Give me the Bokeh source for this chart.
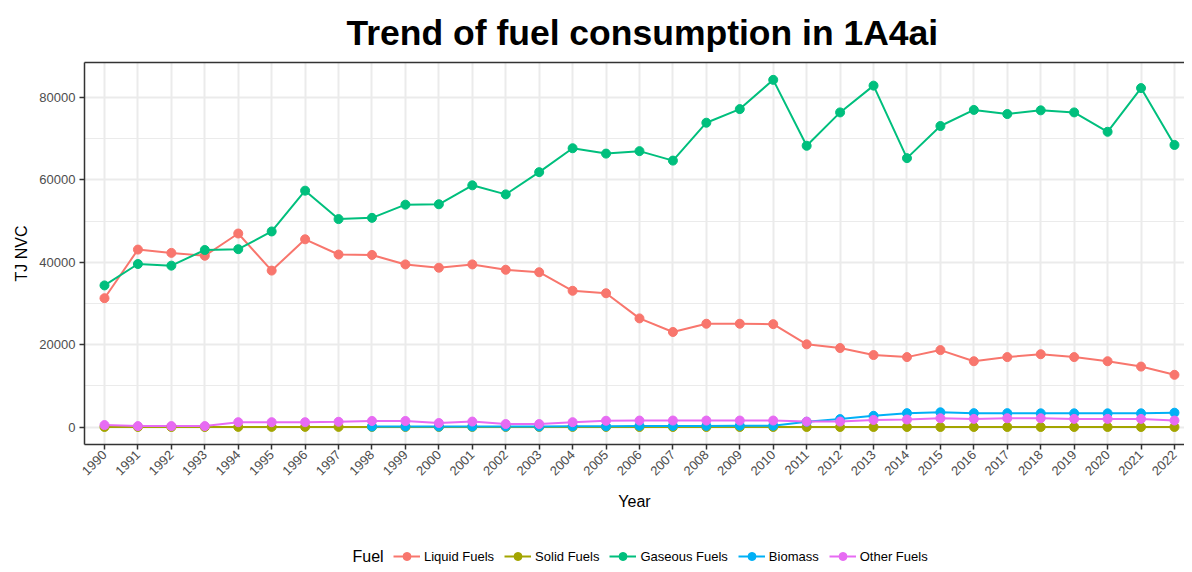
import math
from bokeh.plotting import figure
from bokeh.layouts import column
from bokeh.models import (ColumnDataSource, FixedTicker, Range1d, Legend,
                          LegendItem, Label, LinearAxis)
from bokeh.embed import file_html
from bokeh.resources import INLINE

years = list(range(1990, 2023))
fuels = ["Liquid Fuels", "Solid Fuels", "Gaseous Fuels", "Biomass", "Other Fuels"]
colors = ["#F8766D", "#A3A500", "#00BF7D", "#00B0F6", "#E76BF3"]
legend_title = "Fuel"

liquid = [31300, 43100, 42300, 41600, 47000, 38000, 45600, 41900, 41800, 39500,
          38700, 39500, 38200, 37600, 33100, 32500, 26400, 23100, 25100, 25100,
          25000, 20100, 19200, 17500, 17000, 18700, 16000, 17000, 17700, 17000,
          16000, 14700, 12700]
solid = [40, 40, 40, 40, 60, 60, 60, 60, 50, 50,
         50, 50, 50, 50, 50, 50, 40, 40, 40, 40,
         40, 40, 40, 40, 40, 40, 40, 40, 40, 40,
         40, 40, 40]
gaseous = [34400, 39600, 39200, 43000, 43200, 47500, 57400, 50500, 50800, 54000,
           54100, 58700, 56500, 61900, 67700, 66400, 67000, 64700, 73900, 77200,
           84300, 68300, 76400, 82900, 65300, 73100, 77000, 76000, 76900, 76400,
           71700, 82300, 68500]
biomass = [None, None, None, None, None, None, None, None, 150, 150,
           150, 150, 150, 150, 200, 200, 300, 300, 300, 350,
           350, 1300, 1950, 2750, 3400, 3600, 3400, 3400, 3350, 3350,
           3350, 3350, 3500]
other = [500, 250, 250, 250, 1200, 1200, 1200, 1300, 1500, 1500,
         1000, 1350, 750, 750, 1200, 1550, 1600, 1600, 1600, 1600,
         1600, 1350, 1350, 1750, 1850, 2150, 2000, 2150, 2150, 2000,
         2000, 2000, 1600]

y_ticks = [0, 20000, 40000, 60000, 80000]
y_minor = [10000, 30000, 50000, 70000]

series = [liquid, solid, gaseous, biomass, other]

FONT = "Liberation Sans"
BORDER = "#333333"

p = figure(width=1184, height=514, output_backend="svg", toolbar_location=None,
           x_range=Range1d(1989.402, 2022.30), y_range=Range1d(-4215, 88515),
           min_border_left=84, min_border_right=0, min_border_top=62,
           min_border_bottom=70)

p.title.text = "Trend of fuel consumption in 1A4ai"
p.title.text_font = FONT
p.title.text_font_size = "35.5px"
p.title.text_font_style = "bold"
p.title.text_color = "#000000"
p.title.align = "left"
p.title.offset = 262
p.title.standoff = 20

p.background_fill_color = "white"
p.border_fill_color = "white"
p.outline_line_color = None

bottom = p.below[0]
left = p.left[0]

bottom.ticker = FixedTicker(ticks=years)
bottom.major_label_orientation = math.pi / 4
left.ticker = FixedTicker(ticks=y_ticks, minor_ticks=y_minor)

# panel border on three sides (the right side runs past the picture's edge)
top_axis = LinearAxis(ticker=FixedTicker(ticks=[]), axis_line_color=BORDER,
                      axis_line_width=1.5, major_tick_out=0, major_tick_in=0,
                      minor_tick_out=0, minor_tick_in=0,
                      major_tick_line_color=None, minor_tick_line_color=None,
                      major_label_text_font_size="0px")
p.add_layout(top_axis, "above")

p.xgrid.ticker = bottom.ticker
p.ygrid.ticker = left.ticker
p.grid.grid_line_color = "#EBEBEB"
p.grid.grid_line_width = 2
p.ygrid.minor_grid_line_color = "#EBEBEB"
p.ygrid.minor_grid_line_width = 1

for ax in (bottom, left):
    ax.axis_line_color = BORDER
    ax.axis_line_width = 1.5
    ax.minor_tick_line_color = None
    ax.major_tick_in = 0
    ax.major_tick_out = 5
    ax.major_tick_line_color = BORDER
    ax.major_tick_line_width = 1.5
    ax.major_label_text_font = FONT
    ax.major_label_text_font_size = "13px"
    ax.major_label_text_color = "#4D4D4D"
    ax.axis_label_text_font = FONT
    ax.axis_label_text_font_size = "16px"
    ax.axis_label_text_font_style = "normal"
    ax.axis_label_text_color = "#000000"

bottom.axis_label = "Year"
left.axis_label = "TJ NVC"
bottom.major_label_standoff = 3
bottom.axis_label_standoff = 11
left.major_label_standoff = 4
left.axis_label_standoff = 6

sources = []
for vals in series:
    yv = [float("nan") if v is None else v for v in vals]
    sources.append(ColumnDataSource(dict(x=years, y=yv)))

for src, c in zip(sources, colors):
    p.line("x", "y", source=src, line_color=c, line_width=2)
for src, c in zip(sources, colors):
    p.scatter("x", "y", source=src, size=9, fill_color=c, line_color=c)

# legend strip below the chart (its frame is aligned with the chart's frame)
lg = figure(width=1184, height=50, output_backend="svg", toolbar_location=None,
            x_range=Range1d(0, 1), y_range=Range1d(0, 1),
            x_axis_type=None, y_axis_type=None, min_border=0)
lg.outline_line_color = None
lg.background_fill_color = "white"
lg.border_fill_color = "white"

items = []
for f, c in zip(fuels, colors):
    # off-range sample so the legend swatch is drawn; nothing shows in the strip
    lr = lg.line(x=[-5, -4], y=[-5, -5], line_color=c, line_width=2)
    sr = lg.scatter(x=[-5], y=[-5], size=9, fill_color=c, line_color=c)
    items.append(LegendItem(label=f, renderers=[lr, sr]))

legend = Legend(items=items, orientation="horizontal", location=(309, -2),
                border_line_color=None, background_fill_alpha=0,
                label_text_font=FONT, label_text_font_size="13px",
                label_text_color="#000000",
                glyph_width=27, glyph_height=20, label_standoff=4, spacing=10,
                padding=0, margin=0)
lg.add_layout(legend)

lg.add_layout(Label(x=268, y=8, x_units="screen", y_units="screen",
                    text=legend_title, text_font=FONT, text_font_size="16px",
                    text_color="#000000", text_baseline="middle",
                    text_align="left"))

layout = column(p, lg, spacing=0)
open("out.html", "w").write(file_html(layout, INLINE))
